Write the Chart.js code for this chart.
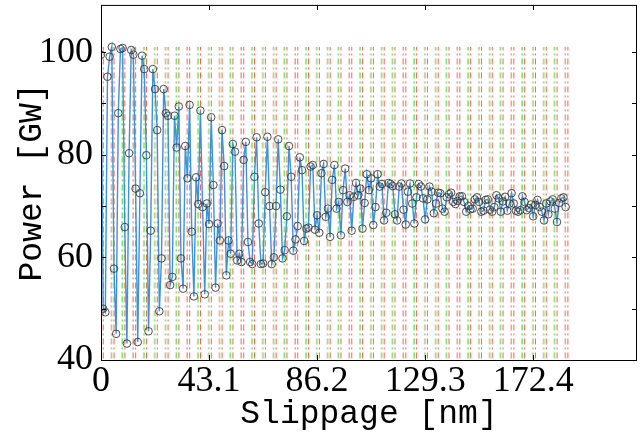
<!DOCTYPE html>
<html>
<head>
<meta charset="utf-8">
<script src="https://cdn.jsdelivr.net/npm/chart.js@4.4.1/dist/chart.umd.min.js"></script>
<style>
  html, body { margin: 0; padding: 0; background: #fff; }
  #wrap { width: 643px; height: 446px; }
</style>
</head>
<body>
<div id="wrap"><canvas id="powerChart" width="643" height="446"></canvas></div>
<script>
/* ---- Data ---- */

// spacing between samples (5 samples per dashed group)
const sampleStep = 0.862;
const groupStep = 4.31;
const groupCount = 44;

const xTickValues = [0, 43.1, 86.2, 129.3, 172.4];
const yTickValues = [40, 60, 80, 100];
const yMinorTicks = [40, 50, 60, 70, 80, 90, 100];

// power [GW] per sample
const power = [
  99.5, 50.0, 49.3, 95.2, 99.1, 101.0, 57.8, 45.1, 88.1, 100.6,
  100.8, 65.9, 43.2, 80.3, 100.4, 99.5, 73.4, 43.5, 72.5, 99.3,
  96.7, 79.9, 45.6, 65.2, 96.7, 92.8, 84.8, 49.5, 59.8, 92.8,
  88.1, 87.6, 54.6, 56.2, 87.6, 81.4, 89.4, 59.8, 53.9, 81.7,
  75.4, 89.7, 65.0, 52.4, 75.6, 70.4, 88.6, 69.8, 52.8, 70.5,
  66.5, 87.3, 74.1, 54.1, 66.6, 63.3, 84.8, 77.8, 56.5, 63.3,
  60.7, 82.1, 80.6, 59.4, 60.7, 59.1, 79.0, 82.5, 63.0, 59.1,
  58.7, 75.7, 83.4, 66.6, 58.7, 58.8, 72.7, 83.5, 70.0, 58.7,
  60.0, 70.0, 83.0, 73.2, 59.8, 61.4, 68.0, 81.7, 75.7, 61.3,
  63.5, 66.1, 79.5, 77.0, 63.2, 65.6, 65.8, 77.7, 78.0, 65.4,
  68.2, 64.8, 76.4, 78.2, 67.9, 69.5, 64.0, 75.1, 78.0, 69.5,
  70.8, 64.3, 73.1, 77.3, 70.8, 72.1, 65.2, 71.8, 74.5, 72.1,
  73.4, 65.6, 70.6, 76.2, 73.1, 75.4, 66.3, 69.8, 76.2, 73.8,
  74.3, 67.2, 68.7, 74.5, 74.3, 73.9, 68.4, 67.2, 73.8, 74.4,
  69.3, 66.4, 72.8, 74.4, 70.5, 66.6, 71.7, 74.3, 73.8, 71.5,
  67.4, 71.3, 73.8, 72.8, 68.6, 70.5, 72.6, 72.5, 69.5, 68.9,
  71.7, 72.3, 72.6, 70.8, 70.4, 71.0, 71.9, 71.9, 70.8, 68.9,
  70.0, 69.4, 69.5, 71.3, 71.7, 70.8, 68.9, 69.1, 71.2, 71.3,
  69.3, 68.9, 69.8, 72.1, 71.5, 68.9, 70.9, 71.8, 69.1, 70.5,
  72.5, 70.5, 69.1, 68.9, 69.2, 71.9, 70.8, 69.2, 69.6, 70.3,
  68.0, 70.2, 71.2, 69.8, 68.9, 67.2, 70.5, 68.4, 70.9, 71.3,
  69.5, 66.9, 70.6, 71.5, 71.7, 69.8
];

const guideTop = 101;
const guideBottom = 40.3;

/* ---- Helpers ---- */

const guideLines = (offset) => {
  const pts = [];
  for (let k = 0; k < groupCount; k++) {
    const x = k * groupStep + offset;
    pts.push({ x, y: guideBottom }, { x, y: guideTop }, { x, y: null });
  }
  return pts;
};

const guideSet = (offset, color, order) => ({
  data: guideLines(offset),
  borderColor: color,
  borderWidth: 1,
  borderDash: [6, 3, 2, 3],
  pointRadius: 0,
  spanGaps: false,
  order,
});

const tickFont = { family: "'Liberation Serif', serif", size: 36 };
const titleFont = { family: "'Liberation Mono', monospace", size: 33 };

// black box plus inward tick marks
const framePlugin = {
  id: "frame",
  afterDatasetsDraw(chart) {
    const { ctx, chartArea: a, scales } = chart;
    ctx.save();
    ctx.strokeStyle = "#000";
    ctx.lineWidth = 1;
    ctx.strokeRect(a.left + 0.5, a.top + 0.5, a.right - a.left - 1, a.bottom - a.top);
    ctx.beginPath();
    xTickValues.forEach((v) => {
      const px = Math.round(scales.x.getPixelForValue(v)) + 0.5;
      ctx.moveTo(px, a.bottom); ctx.lineTo(px, a.bottom - 5);
      ctx.moveTo(px, a.top); ctx.lineTo(px, a.top + 5);
    });
    yMinorTicks.forEach((v) => {
      const py = Math.round(scales.y.getPixelForValue(v)) + 0.5;
      ctx.moveTo(a.left, py); ctx.lineTo(a.left + 5, py);
      ctx.moveTo(a.right, py); ctx.lineTo(a.right - 5, py);
    });
    ctx.stroke();
    ctx.restore();
  },
};

/* ---- Chart ---- */

new Chart(document.getElementById("powerChart"), {
  type: "line",
  data: {
    datasets: [
      {
        data: power.map((v, i) => ({ x: i * sampleStep, y: v })),
        borderColor: "#3d92d8",
        borderWidth: 1.4,
        pointRadius: 3.8,
        pointBorderColor: "#3a3a3a",
        pointBorderWidth: 0.9,
        pointBackgroundColor: "rgba(0,0,0,0)",
        tension: 0,
        order: 0,
      },
      guideSet(-0.35, "rgba(255, 110, 110, 0.45)", 3),
      guideSet(0, "rgba(40, 235, 40, 0.75)", 2),
      guideSet(0.9, "rgba(255, 40, 40, 0.75)", 1),
    ],
  },
  options: {
    responsive: false,
    animation: false,
    devicePixelRatio: 1,
    layout: { padding: { top: 0, right: 6, left: 0, bottom: 0 } },
    plugins: { legend: { display: false }, tooltip: { enabled: false } },
    scales: {
      x: {
        type: "linear",
        min: 0,
        max: 213.8,
        grid: { display: false, drawTicks: false },
        border: { display: false },
        afterBuildTicks: (scale) => { scale.ticks = xTickValues.map((v) => ({ value: v })); },
        afterFit: (scale) => {
          scale.height = 86;
          scale.paddingLeft = 0;
          scale.paddingRight = 0;
        },
        ticks: {
          color: "#000",
          font: tickFont,
          padding: 0,
          maxRotation: 0,
          autoSkip: false,
          callback: (v) => String(v),
        },
        title: {
          display: true,
          text: "Slippage [nm]",
          color: "#000",
          font: titleFont,
          padding: { top: 0, bottom: 12 },
        },
      },
      y: {
        min: 40,
        max: 109.2,
        grid: { display: false, drawTicks: false },
        border: { display: false },
        afterBuildTicks: (scale) => { scale.ticks = yTickValues.map((v) => ({ value: v })); },
        afterFit: (scale) => {
          scale.width = 101;
          scale.paddingTop = 0;
          scale.paddingBottom = 0;
        },
        ticks: {
          color: "#000",
          font: tickFont,
          padding: 8,
          callback: (v) => String(v),
        },
        title: {
          display: true,
          text: "Power [GW]",
          color: "#000",
          font: titleFont,
          padding: { top: 12, bottom: 0 },
        },
      },
    },
  },
  plugins: [framePlugin],
});
</script>
</body>
</html>
